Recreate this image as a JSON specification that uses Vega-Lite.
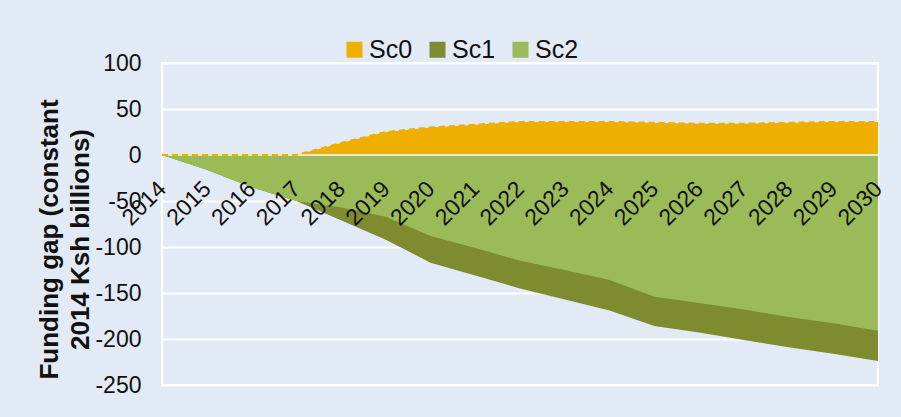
{
  "$schema": "https://vega.github.io/schema/vega-lite/v6.json",
  "width": 716,
  "height": 322,
  "autosize": {"type": "none"},
  "padding": {"left": 162, "top": 63, "right": 23, "bottom": 32},
  "background": "#E2EAF6",
  "config": {
    "font": "Liberation Sans",
    "view": {"stroke": "white", "strokeWidth": 2, "fill": "#E2EAF6"}
  },
  "data": {
    "values": [
      {"year": 2014, "series": "Sc0", "gap": 0},
      {"year": 2015, "series": "Sc0", "gap": 0},
      {"year": 2016, "series": "Sc0", "gap": 0},
      {"year": 2017, "series": "Sc0", "gap": 0},
      {"year": 2018, "series": "Sc0", "gap": 13},
      {"year": 2019, "series": "Sc0", "gap": 25},
      {"year": 2020, "series": "Sc0", "gap": 30},
      {"year": 2021, "series": "Sc0", "gap": 33},
      {"year": 2022, "series": "Sc0", "gap": 36},
      {"year": 2023, "series": "Sc0", "gap": 36},
      {"year": 2024, "series": "Sc0", "gap": 36},
      {"year": 2025, "series": "Sc0", "gap": 35},
      {"year": 2026, "series": "Sc0", "gap": 34},
      {"year": 2027, "series": "Sc0", "gap": 34},
      {"year": 2028, "series": "Sc0", "gap": 35},
      {"year": 2029, "series": "Sc0", "gap": 36},
      {"year": 2030, "series": "Sc0", "gap": 36},
      {"year": 2014, "series": "Sc1", "gap": 0},
      {"year": 2015, "series": "Sc1", "gap": -16},
      {"year": 2016, "series": "Sc1", "gap": -35},
      {"year": 2017, "series": "Sc1", "gap": -50},
      {"year": 2018, "series": "Sc1", "gap": -71},
      {"year": 2019, "series": "Sc1", "gap": -92},
      {"year": 2020, "series": "Sc1", "gap": -117},
      {"year": 2021, "series": "Sc1", "gap": -131},
      {"year": 2022, "series": "Sc1", "gap": -145},
      {"year": 2023, "series": "Sc1", "gap": -157},
      {"year": 2024, "series": "Sc1", "gap": -169},
      {"year": 2025, "series": "Sc1", "gap": -186},
      {"year": 2026, "series": "Sc1", "gap": -193},
      {"year": 2027, "series": "Sc1", "gap": -201},
      {"year": 2028, "series": "Sc1", "gap": -209},
      {"year": 2029, "series": "Sc1", "gap": -216},
      {"year": 2030, "series": "Sc1", "gap": -224},
      {"year": 2014, "series": "Sc2", "gap": 0},
      {"year": 2015, "series": "Sc2", "gap": -16},
      {"year": 2016, "series": "Sc2", "gap": -35},
      {"year": 2017, "series": "Sc2", "gap": -50},
      {"year": 2018, "series": "Sc2", "gap": -57},
      {"year": 2019, "series": "Sc2", "gap": -67},
      {"year": 2020, "series": "Sc2", "gap": -88},
      {"year": 2021, "series": "Sc2", "gap": -101},
      {"year": 2022, "series": "Sc2", "gap": -115},
      {"year": 2023, "series": "Sc2", "gap": -125},
      {"year": 2024, "series": "Sc2", "gap": -136},
      {"year": 2025, "series": "Sc2", "gap": -154},
      {"year": 2026, "series": "Sc2", "gap": -161},
      {"year": 2027, "series": "Sc2", "gap": -168},
      {"year": 2028, "series": "Sc2", "gap": -176},
      {"year": 2029, "series": "Sc2", "gap": -183},
      {"year": 2030, "series": "Sc2", "gap": -191}
    ]
  },
  "layer": [
    {
      "mark": {"type": "area", "opacity": 1},
      "encoding": {
        "x": {
          "field": "year",
          "type": "quantitative",
          "scale": {"domain": [2014, 2030], "nice": false, "zero": false},
          "axis": {
            "orient": "bottom",
            "offset": -230,
            "zindex": 1,
            "values": [2014, 2015, 2016, 2017, 2018, 2019, 2020, 2021, 2022, 2023, 2024, 2025, 2026, 2027, 2028, 2029, 2030],
            "format": "d",
            "title": null,
            "grid": false,
            "domain": false,
            "ticks": false,
            "tickSize": 0,
            "labelAngle": -45,
            "labelAlign": "right",
            "labelBaseline": "middle",
            "labelPadding": 30,
            "labelFontSize": 23,
            "labelColor": "#111111",
            "labelOverlap": false,
            "labelBound": false,
            "labelFlush": false
          }
        },
        "y": {
          "field": "gap",
          "type": "quantitative",
          "stack": null,
          "scale": {"domain": [-250, 100], "nice": false},
          "axis": {
            "values": [-250, -200, -150, -100, -50, 0, 50, 100],
            "labelExpr": "'' + datum.value",
            "title": ["Funding gap (constant", "2014 Ksh billions)"],
            "titleFontSize": 26,
            "titleFontWeight": "bold",
            "titleColor": "#111111",
            "titleLineHeight": 31,
            "titleAngle": -90,
            "titleAlign": "center",
            "titleBaseline": "middle",
            "titleX": -113,
            "titleY": 176,
            "grid": true,
            "gridColor": "white",
            "gridWidth": 2,
            "domain": false,
            "ticks": false,
            "tickSize": 0,
            "labelPadding": 21,
            "labelFontSize": 23,
            "labelColor": "#111111"
          }
        },
        "color": {
          "field": "series",
          "type": "nominal",
          "scale": {"domain": ["Sc0", "Sc1", "Sc2"], "range": ["#EEAF00", "#7E8B2F", "#9BBB59"]},
          "legend": {
            "orient": "none",
            "direction": "horizontal",
            "legendX": 180,
            "legendY": -26,
            "title": null,
            "symbolType": "square",
            "symbolSize": 256,
            "symbolStrokeWidth": 0,
            "symbolOpacity": 1,
            "labelFontSize": 25,
            "labelColor": "#111111",
            "labelOffset": 2,
            "columnPadding": 12
          }
        }
      }
    },
    {
      "mark": {"type": "rule", "color": "#F6E9BC", "strokeWidth": 1.5},
      "encoding": {"y": {"datum": 0}}
    },
    {
      "transform": [{"filter": "datum.series === 'Sc0'"}],
      "mark": {"type": "line", "color": "#EEAF00", "strokeWidth": 2, "strokeDash": [6, 4]},
      "encoding": {
        "x": {"field": "year", "type": "quantitative"},
        "y": {"field": "gap", "type": "quantitative"}
      }
    }
  ]
}
